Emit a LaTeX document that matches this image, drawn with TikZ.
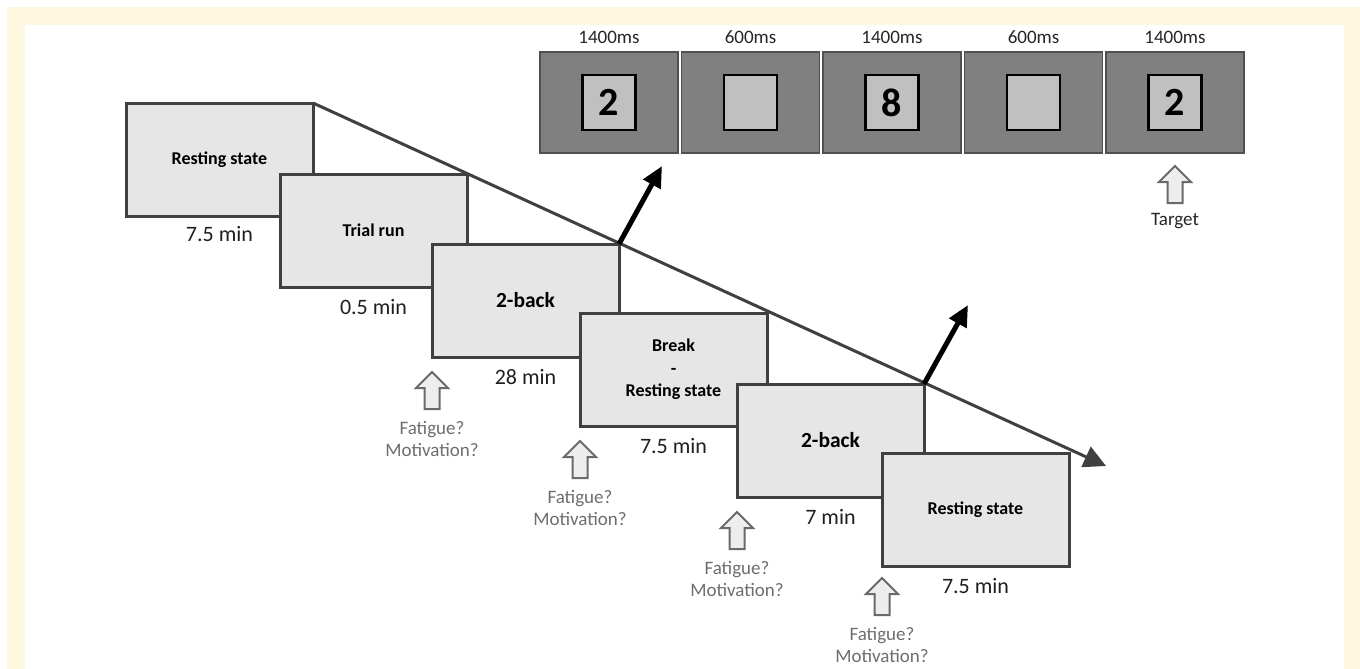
\documentclass[tikz,border=0pt]{standalone}
\usepackage{fontspec}
\setmainfont{Carlito}
\usetikzlibrary{arrows.meta,calc}
\definecolor{bgyellow}{HTML}{FFF8E1}
\definecolor{boxfill}{HTML}{E6E6E6}
\definecolor{boxline}{HTML}{404040}
\definecolor{panelfill}{HTML}{808080}
\definecolor{panelline}{HTML}{505050}
\definecolor{innerfill}{HTML}{C0C0C0}
\definecolor{qgray}{HTML}{6E6E6E}
\definecolor{harrowfill}{HTML}{EDEDED}
\definecolor{harrowline}{HTML}{6A6A6A}
\tikzset{
 stagebox/.style={draw=boxline, fill=boxfill, line width=1.5pt, minimum width=93.5pt, minimum height=56.5pt, inner sep=0pt, outer sep=0pt, anchor=north west, align=center, font=\bfseries\fontsize{9}{11.25}\selectfont},
 bigtask/.style={font=\bfseries\fontsize{10.75}{13}\selectfont},
 dur/.style={font=\fontsize{11}{13}\selectfont, text=black!88, inner sep=0pt},
 question/.style={font=\fontsize{9.5}{11}\selectfont, text=qgray, align=center, inner sep=0pt},
 mslabel/.style={font=\fontsize{9.5}{11}\selectfont, text=black!85, inner sep=0pt},
 panel/.style={draw=panelline, fill=panelfill, line width=0.75pt, minimum width=69pt, minimum height=50.5pt, inner sep=0pt, outer sep=0pt, anchor=north west},
 stim/.style={draw=black, fill=innerfill, line width=1.25pt, minimum width=26.5pt, minimum height=27.5pt, inner sep=0pt, font=\bfseries\fontsize{20}{20}\selectfont},
 timeline/.style={draw=boxline, line width=1.5pt, -{Triangle[length=11pt,width=11pt]}},
 zoomarrow/.style={draw=black, line width=2.5pt, -{Triangle[length=10.5pt,width=9.5pt]}},
 hollowup/.pic={\draw[draw=harrowline, fill=harrowfill, line width=1pt, line join=miter] (-7.5,0) -- (-7.5,-21) -- (-16,-21) -- (0,-37) -- (16,-21) -- (7.5,-21) -- (7.5,0) -- cycle;}
}
\begin{document}
\begin{tikzpicture}[x=0.5pt,y=-0.5pt]
\useasboundingbox (0,0) rectangle (1360,669);
\fill[bgyellow] (7,7) rectangle (1360,669);
\fill[white] (25,25) rectangle (1344,669);

% stages
\node[stagebox] (b1) at (126,103) {Resting state};
\node[stagebox] (b2) at (280,174) {Trial run};
\node[stagebox,bigtask] (b3) at (432,244) {2-back};
\node[stagebox] (b4) at (580,313) {Break\\-\\Resting state};
\node[stagebox,bigtask] (b5) at (737,384) {2-back};
\node[stagebox] (b6) at (882,453) {Resting state};

% durations
\node[dur] (d1) at ($(b1.south)+(0,18)$) {7.5 min};
\node[dur] (d2) at ($(b2.south)+(0,20)$) {0.5 min};
\node[dur] (d3) at ($(b3.south)+(0,20)$) {28 min};
\node[dur] (d4) at ($(b4.south)+(0,20)$) {7.5 min};
\node[dur] (d5) at ($(b5.south)+(0,20)$) {7 min};
\node[dur] (d6) at ($(b6.south)+(0,20)$) {7.5 min};

% time line
\coordinate (tip) at (1106,466);
\draw[timeline] (b1.north east) -- (tip);

% questionnaires
\foreach \b/\dy in {3/0,4/0,5/0,6/-3}{
  \pic at ($(b\b.south west)+(0,52+\dy)$) {hollowup};
  \node[question] (q\b) at ($(b\b.south west)+(0,82+\dy)$) {Fatigue?\\Motivation?};
}

% stimulus panels
\foreach \i/\lab/\dig in {1/1400ms/2,2/600ms/,3/1400ms/8,4/600ms/,5/1400ms/2}{
  \node[panel] (p\i) at ({540+141.5*(\i-1)},52) {};
  \node[stim] (s\i) at (p\i.center) {\dig};
  \node[mslabel] (m\i) at ($(p\i.north)+(0,-15)$) {\lab};
}
\pic at ($(p5.south)+(0,50)$) {hollowup};
\node[mslabel] (tg) at ($(p5.south)+(0,68)$) {Target};

% zoom arrows
\coordinate (z1) at (662,166);
\draw[zoomarrow] (b3.north east) -- (z1);
\coordinate (z2) at (968,305);
\draw[zoomarrow] (b5.north east) -- (z2);
\end{tikzpicture}
\end{document}
